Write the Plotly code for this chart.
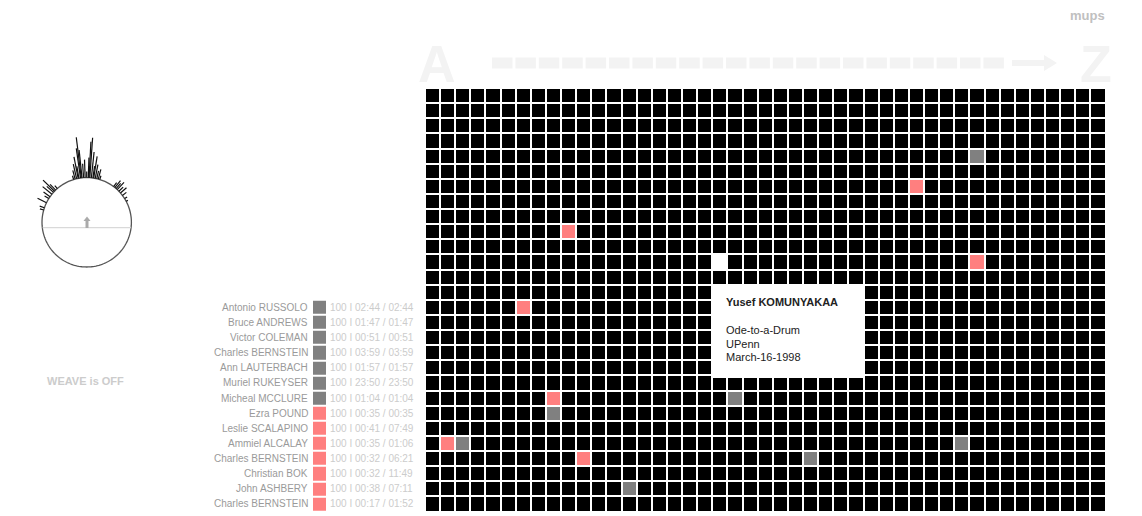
import plotly.graph_objects as go

W, H = 1142, 516

# ---------------- data ----------------
N_COLS = 45
N_ROWS = 28
gray_cells = [(36, 4), (20, 20), (8, 21), (2, 23), (35, 23), (25, 24), (13, 26)]
pink_cells = [(32, 6), (9, 9), (36, 11), (6, 14), (8, 20), (1, 23), (10, 24)]
white_cells = [(19, 11)]

list_rows = [14, 15, 16, 17, 18, 19, 20, 21, 22, 23, 24, 25, 26, 27]
names = ["Antonio RUSSOLO", "Bruce ANDREWS", "Victor COLEMAN", "Charles BERNSTEIN",
         "Ann LAUTERBACH", "Muriel RUKEYSER", "Micheal MCCLURE", "Ezra POUND",
         "Leslie SCALAPINO", "Ammiel ALCALAY", "Charles BERNSTEIN", "Christian BOK",
         "John ASHBERY", "Charles BERNSTEIN"]
status = [1, 1, 1, 1, 1, 1, 1, 2, 2, 2, 2, 2, 2, 2]   # 1 = gray, 2 = pink
percent = [100] * 14
played = ["02:44", "01:47", "00:51", "03:59", "01:57", "23:50", "01:04",
          "00:35", "00:41", "00:35", "00:32", "00:32", "00:38", "00:17"]
total = ["02:44", "01:47", "00:51", "03:59", "01:57", "23:50", "01:04",
         "00:35", "07:49", "01:06", "06:21", "11:49", "07:11", "01:52"]

tooltip_title = "Yusef KOMUNYAKAA"
tooltip_lines = ["Ode-to-a-Drum", "UPenn", "March-16-1998"]

spike_theta = [-74, -71, -64, -58, -55, -51, -48, -46, -44, -41,
               -17, -15, -13, -11, -10, -8, -7, -6, -4, -2, 0,
               2, 3, 4, 6, 8, 9, 11, 13, 15, 17,
               37, 39, 41, 43, 46, 49, 53, 58, 62]
spike_len = [4, 5, 10, 5, 8, 12, 9, 16, 8, 4,
             4, 9, 15, 22, 12, 30, 41, 28, 14, 18, 6,
             20, 36, 40, 26, 12, 22, 14, 8, 10, 4,
             5, 9, 7, 10, 6, 8, 5, 3, 2]

# ---------------- helpers ----------------
def px(x):
    return x / W

def py(y):
    return (H - y) / H

BLACK, GRAY, PINK, WHITE = "#000000", "#808080", "#ff7f7f", "#ffffff"
cscale = [[0, BLACK], [0.16, BLACK], [0.17, GRAY], [0.49, GRAY],
          [0.5, PINK], [0.82, PINK], [0.83, WHITE], [1, WHITE]]

z = [[0] * N_COLS for _ in range(N_ROWS)]
for c, r in gray_cells:
    z[r][c] = 1
for c, r in pink_cells:
    z[r][c] = 2
for c, r in white_cells:
    z[r][c] = 3

fig = go.Figure()

fig.add_trace(go.Heatmap(
    z=z, x=list(range(N_COLS)), y=list(range(N_ROWS)),
    colorscale=cscale, zmin=0, zmax=3, showscale=False,
    xgap=2, ygap=2, hoverinfo="skip", xaxis="x", yaxis="y"))

fig.add_trace(go.Heatmap(
    z=[[s] for s in status], x=[0], y=list_rows,
    colorscale=cscale, zmin=0, zmax=3, showscale=False,
    xgap=0, ygap=2, hoverinfo="skip", xaxis="x2", yaxis="y"))

# circular widget
R0 = 44.7
circ_t = list(range(0, 361, 2))
fig.add_trace(go.Scatterpolar(
    r=[R0] * len(circ_t), theta=circ_t, mode="lines",
    line=dict(color="#555555", width=1.3), hoverinfo="skip", subplot="polar"))
sr, st = [], []
for t, L in zip(spike_theta, spike_len):
    sr += [R0, R0 + L, None]
    st += [t, t, None]
fig.add_trace(go.Scatterpolar(
    r=sr, theta=st, mode="lines", line=dict(color="#111111", width=1.2),
    hoverinfo="skip", subplot="polar"))

annotations = []
shapes = []

# list labels
for r, n, p, a, b in zip(list_rows, names, percent, played, total):
    annotations.append(dict(x=px(310), y=r, xref="paper", yref="y", text=n,
                            xanchor="right", yanchor="middle", showarrow=False,
                            font=dict(size=10, color="#9a9a9a")))
    annotations.append(dict(x=px(328), y=r, xref="paper", yref="y",
                            text=f"{p} I {a} / {b}",
                            xanchor="left", yanchor="middle", showarrow=False,
                            font=dict(size=10, color="#cccccc")))

# tooltip
shapes.append(dict(type="rect", xref="paper", yref="paper",
                   x0=px(712), x1=px(865), y0=py(378), y1=py(284),
                   fillcolor="white", line=dict(width=0), layer="above"))
annotations.append(dict(x=px(724), y=py(302), xref="paper", yref="paper",
                        text=f"<b>{tooltip_title}</b>", xanchor="left", yanchor="middle",
                        showarrow=False, font=dict(size=11, color="#222222")))
for i, t in enumerate(tooltip_lines):
    annotations.append(dict(x=px(724), y=py(330 + 13.5 * i), xref="paper", yref="paper",
                            text=t, xanchor="left", yanchor="middle",
                            showarrow=False, font=dict(size=11, color="#222222")))

# headings
annotations.append(dict(x=px(437), y=py(64), xref="paper", yref="paper", text="<b>A</b>",
                        xanchor="center", yanchor="middle",
                        showarrow=False, font=dict(size=52, color="#f3f3f3")))
annotations.append(dict(x=px(1096), y=py(64), xref="paper", yref="paper", text="<b>Z</b>",
                        xanchor="center", yanchor="middle",
                        showarrow=False, font=dict(size=52, color="#f3f3f3")))
annotations.append(dict(x=px(1087.5), y=py(15), xref="paper", yref="paper", text="<b>mups</b>",
                        xanchor="center", yanchor="middle",
                        showarrow=False, font=dict(size=13, color="#c0c0c0")))
annotations.append(dict(x=px(45), y=py(381), xref="paper", yref="paper", text="<b>WEAVE is OFF</b>",
                        xanchor="left", yanchor="middle",
                        showarrow=False, font=dict(size=11, color="#cccccc")))

# dashed arrow
for i in range(22):
    x0 = 492 + i * 23.4
    shapes.append(dict(type="rect", xref="paper", yref="paper",
                       x0=px(x0), x1=px(x0 + 20.5), y0=py(68.5), y1=py(57.5),
                       fillcolor="#f3f3f3", line=dict(width=0), layer="below"))
shapes.append(dict(type="rect", xref="paper", yref="paper",
                   x0=px(1012), x1=px(1046), y0=py(66), y1=py(60),
                   fillcolor="#f3f3f3", line=dict(width=0), layer="below"))
shapes.append(dict(type="path", xref="paper", yref="paper",
                   path=f"M {px(1044)} {py(55)} L {px(1057)} {py(63)} L {px(1044)} {py(71)} Z",
                   fillcolor="#f3f3f3", line=dict(width=0), layer="below"))

# circle inner line & arrow
shapes.append(dict(type="line", xref="paper", yref="paper",
                   x0=px(42.5), x1=px(131), y0=py(227.7), y1=py(227.7),
                   line=dict(color="#d0d0d0", width=1)))
shapes.append(dict(type="rect", xref="paper", yref="paper",
                   x0=px(85.5), x1=px(88.5), y0=py(228), y1=py(220),
                   fillcolor="#aaaaaa", line=dict(width=0)))
shapes.append(dict(type="path", xref="paper", yref="paper",
                   path=f"M {px(83.5)} {py(221)} L {px(87)} {py(216.5)} L {px(90.5)} {py(221)} Z",
                   fillcolor="#aaaaaa", line=dict(width=0)))

cx, cy, HS = 86.7, 222.3, 86
fig.update_layout(
    width=W, height=H, margin=dict(l=0, r=0, t=0, b=0),
    paper_bgcolor="white", plot_bgcolor="white", showlegend=False,
    xaxis=dict(domain=[px(425), px(1105.5)], range=[-0.5, N_COLS - 0.5], visible=False,
               fixedrange=True, anchor="y"),
    xaxis2=dict(domain=[px(313), px(326)], range=[-0.5, 0.5], visible=False,
                fixedrange=True, anchor="y"),
    yaxis=dict(domain=[py(511.5), py(88)], range=[N_ROWS - 0.5, -0.5], visible=False,
               fixedrange=True),
    polar=dict(domain=dict(x=[px(cx - HS), px(cx + HS)], y=[py(cy + HS), py(cy - HS)]),
               bgcolor="rgba(0,0,0,0)",
               radialaxis=dict(range=[0, HS], visible=False),
               angularaxis=dict(rotation=90, direction="clockwise", visible=False,
                                showline=False, showgrid=False)),
    annotations=annotations, shapes=shapes,
    font=dict(family="Liberation Sans, Arial, sans-serif"),
)

fig.write_html("out.html", post_script="document.body.style.margin='0';",
               config={"displayModeBar": False})
